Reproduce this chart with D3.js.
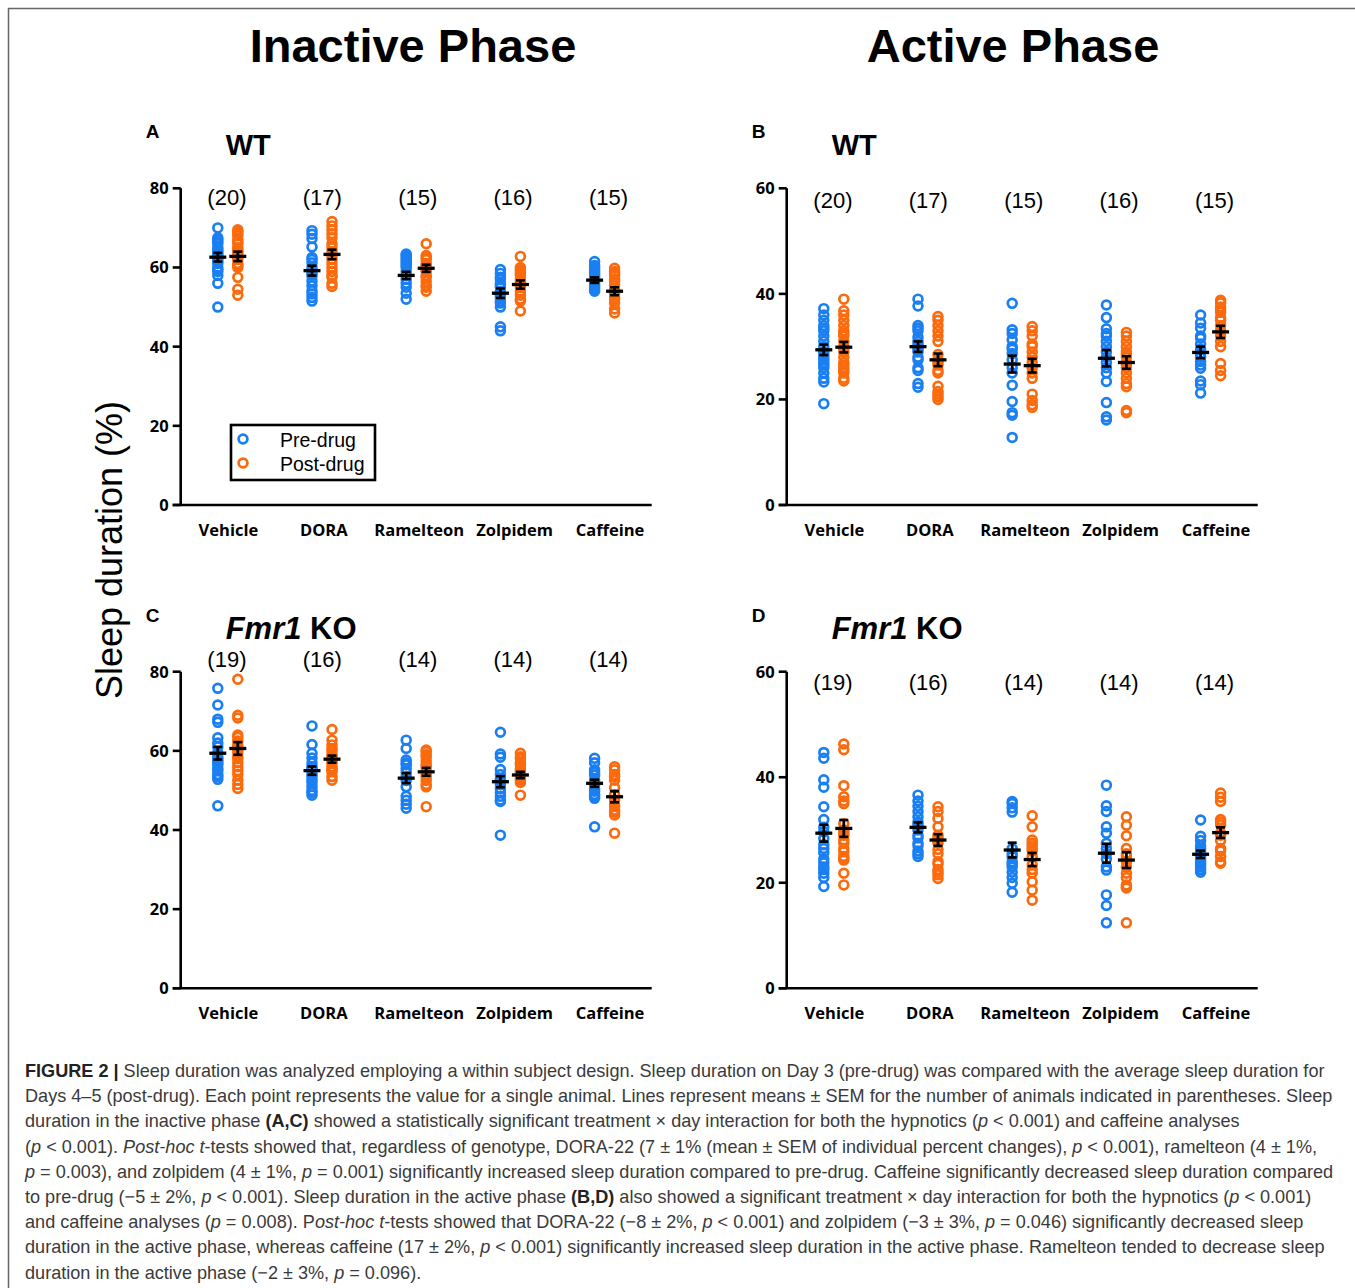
<!DOCTYPE html>
<html lang="en">
<head>
<meta charset="utf-8">
<title>Sleep duration</title>
<script src="https://d3js.org/d3.v7.min.js"></script>
<style>
  body { margin: 0; background: #fff; }
  text { font-family: "Liberation Sans", Arial, sans-serif; }
  .tick-lbl, .cat-lbl { font-family: "Open Sans", sans-serif; font-weight: bold; font-size: 16.5px; }
  .nlbl { font-size: 22px; }
</style>
</head>
<body>
<div id="chart"></div>
<script>
"use strict"

var categories = ["Vehicle", "DORA", "Ramelteon", "Zolpidem", "Caffeine"];

// A: WT, inactive phase
var aN = [20, 17, 15, 16, 15];
var aPre = [
  [70, 67.5, 67, 66.5, 66, 65, 64.5, 64, 63.5, 63, 62.5, 62, 61.5, 61, 60, 59.5, 59, 58, 56, 50],
  [69.3, 68.4, 67.3, 65.2, 62.5, 62, 61.2, 60, 59.2, 58.5, 57.9, 56.6, 55.4, 54.1, 53.3, 52.4, 51.5],
  [63.4, 63, 62.5, 62, 61.5, 61, 60.5, 60, 59, 58, 57, 56, 55, 53.5, 52],
  [59.5, 58.5, 57.5, 57, 56, 55.5, 55, 54, 53.5, 53, 52.5, 51.5, 51, 50, 45, 44],
  [61.5, 60.5, 60, 59.5, 59, 58.5, 58, 57.5, 57, 56.5, 56, 55.5, 55, 54.5, 54]
];
var aPost = [
  [69.5, 69, 68.5, 68, 67, 66.5, 66, 65, 64.5, 64, 63.5, 63, 62.5, 62, 61, 60.5, 60, 57.5, 54.5, 53],
  [71.6, 70.5, 69.5, 68.5, 67.5, 66, 65, 64, 63, 62, 61, 60, 59, 58, 57.5, 56, 55.2],
  [66, 63, 62.5, 62, 61, 60.5, 60, 59.5, 59, 58, 57.5, 56.5, 55.5, 55, 54],
  [62.8, 60, 59.5, 59, 58.5, 58, 57, 56.5, 56, 55.5, 55, 54, 53, 52, 51.5, 49],
  [59.8, 59, 58.5, 58, 57, 56.5, 55.5, 54.5, 54, 53.5, 52.5, 52, 51, 49.5, 48.5]
];
var aPreMean = [62.6, 59.2, 58.0, 53.5, 56.8], aPreSem = [1.1, 1.25, 0.9, 1.2, 0.7];
var aPostMean = [62.8, 63.3, 59.8, 55.7, 54.0], aPostSem = [1.2, 1.2, 0.9, 1.05, 1.0];

// B: WT, active phase
var bN = [20, 17, 15, 16, 15];
var bPre = [
  [37.2, 36, 35, 34, 33.5, 33, 32, 31, 30, 29, 28.5, 28, 27.5, 27, 26.5, 26, 25, 24, 23.3, 19.2],
  [39, 37.7, 34, 33.5, 33, 31.8, 31, 30.5, 30, 29.5, 29, 28, 27.5, 26, 25.5, 23, 22.3],
  [38.2, 33.2, 32.5, 31.3, 30, 29.5, 28.7, 27.5, 26, 25, 22.7, 19.6, 17.5, 17, 12.8],
  [37.9, 35.5, 33.4, 32.5, 32, 31, 30, 29, 28, 27, 26, 25, 23.4, 19.4, 16.7, 16.1],
  [36, 34.5, 33.5, 32, 31.6, 30.5, 29.5, 28.7, 28, 27.2, 26.5, 25.9, 23.5, 22.8, 21.2]
];
var bPost = [
  [39, 36.8, 36, 35, 34, 33, 32.5, 32, 31, 30, 29.5, 29, 28, 27, 26.5, 26, 25.5, 25, 24, 23.5],
  [35.7, 35, 34, 33, 32, 31, 28.5, 27.5, 27, 26.5, 25.5, 25, 22.5, 21.5, 21, 20.5, 20],
  [33.8, 33, 32, 30.5, 30, 29, 28, 27, 26, 25, 24, 21, 19.8, 19, 18.5],
  [32.7, 32, 31, 30, 29, 28.5, 28, 27, 26.5, 26, 25, 24, 23, 22.4, 17.9, 17.5],
  [38.8, 38.3, 37.5, 37, 36.5, 35.5, 35, 34, 33, 32, 31, 30, 26.8, 25.5, 24.5]
];
var bPreMean = [29.4, 30.0, 26.7, 27.8, 28.9], bPreSem = [1.0, 1.0, 1.6, 1.55, 1.1];
var bPostMean = [29.9, 27.5, 26.4, 27.0, 32.8], bPostSem = [1.0, 1.2, 1.3, 1.2, 1.15];

// C: Fmr1 KO, inactive phase
var cN = [19, 16, 14, 14, 14];
var cPre = [
  [75.8, 71.6, 68, 67.2, 63.3, 62, 61, 59.5, 58.5, 58, 57.5, 57, 56.4, 55.5, 55, 54, 53.5, 52.8, 46.1],
  [66.3, 61.6, 59.4, 58.2, 57, 56, 55.5, 55, 54, 53.5, 52.6, 52, 51, 50, 49.5, 48.8],
  [62.7, 60.6, 57.7, 57, 56.5, 55.5, 54.5, 53.5, 52.5, 50.9, 48.5, 47.5, 46.5, 45.5],
  [64.7, 59.2, 58.4, 55.3, 54, 53, 52.6, 51.5, 50.5, 49.5, 48.5, 47.6, 47.2, 38.7],
  [58.1, 57, 55.2, 54.5, 53.9, 52.6, 52, 51.3, 50.5, 49.8, 49, 48.5, 48, 40.8]
];
var cPost = [
  [78.1, 69, 68.3, 64, 63.4, 62.5, 61.5, 61, 60.2, 59.5, 58.5, 58, 57, 56, 55, 54, 52.6, 51.5, 50.5],
  [65.4, 62.7, 61.5, 60.6, 60, 59, 58.5, 58, 57.5, 57, 56, 55.5, 55, 54.7, 53.5, 52.6],
  [60.2, 59.8, 59, 58.5, 57.5, 56.5, 56, 55, 54, 53.5, 52.5, 51.5, 50.9, 45.9],
  [59.4, 58.5, 58, 57, 56.5, 55.5, 55, 54.5, 54, 53.5, 53, 52.6, 52, 48.8],
  [56, 55.2, 54, 53.5, 52.6, 50.7, 49, 47.6, 46.5, 46, 45, 44.5, 43.8, 39.2]
];
var cPreMean = [59.4, 55.0, 53.1, 52.2, 51.8], cPreSem = [1.6, 1.05, 1.25, 1.4, 0.9];
var cPostMean = [60.6, 57.9, 54.7, 53.9, 48.4], cPostSem = [1.6, 0.9, 1.0, 0.8, 1.4];

// D: Fmr1 KO, active phase
var dN = [19, 16, 14, 14, 14];
var dPre = [
  [44.7, 43.6, 39.5, 38.1, 34.4, 32, 30.5, 29.7, 28.4, 27.2, 26.5, 25.7, 24.5, 23.8, 23, 22.5, 21.8, 21, 19.3],
  [36.6, 35.5, 34.5, 33.5, 32.5, 31.5, 31, 30.5, 30, 29, 28.5, 27.5, 27, 26, 25.5, 25],
  [35.4, 35, 34.2, 33.4, 26.5, 25.5, 25, 24, 23.5, 23, 22, 21, 19.9, 18.2],
  [38.5, 34.6, 33.5, 30.6, 29.4, 27.5, 26.5, 25.5, 24.5, 23, 22.4, 17.7, 15.7, 12.4],
  [31.9, 28.8, 28, 27, 26.5, 26, 25.5, 25, 24.5, 24, 23.5, 23, 22.5, 22]
];
var dPost = [
  [46.3, 45.2, 38.4, 36.3, 35.5, 35, 31.2, 30, 29.5, 29, 28.1, 27.5, 26.5, 25.9, 25, 24.5, 24.3, 21.8, 19.6],
  [34.4, 33.5, 32.2, 30.6, 29, 28.5, 28, 27.5, 26.3, 25.5, 24, 23.5, 22.5, 22, 21.5, 20.8],
  [32.7, 30.6, 28.1, 27.5, 27, 26.5, 26, 25, 23.4, 22.5, 21.8, 20.2, 18.6, 16.7],
  [32.5, 30.9, 28.9, 26.5, 25.5, 25, 24, 23, 21.8, 21, 19.6, 19.2, 19, 12.4],
  [37, 36.2, 35.4, 32, 31.5, 31, 29.4, 29, 28, 26.5, 26, 25, 24, 23.7]
];
var dPreMean = [29.4, 30.5, 26.2, 25.6, 25.4], dPreSem = [1.6, 0.95, 1.4, 1.8, 0.7];
var dPostMean = [30.3, 28.1, 24.4, 24.3, 29.5], dPostSem = [1.6, 1.1, 1.25, 1.5, 1.0];

var inactiveTicks = [0, 20, 40, 60, 80];
var activeTicks = [0, 20, 40, 60];

var BLUE = "#1a7ff2", ORANGE = "#fb6a0c";

var svg = d3.select("#chart").append("svg")
  .attr("width", 1355).attr("height", 1288);

// moldura
svg.append("path").attr("d", "M8.5,1288 V8.5 H1355")
  .attr("fill", "none").attr("stroke", "#666").attr("stroke-width", 1.5);

svg.append("text").attr("x", 413).attr("y", 62).attr("text-anchor", "middle")
  .attr("font-weight", "bold").attr("font-size", 47).text("Inactive Phase");
svg.append("text").attr("x", 1013).attr("y", 62).attr("text-anchor", "middle")
  .attr("font-weight", "bold").attr("font-size", 47).text("Active Phase");

svg.append("text").attr("transform", "translate(122,550) rotate(-90)")
  .attr("text-anchor", "middle").attr("font-size", 36).text("Sleep duration (%)");

function painel(p) {
  var g = svg.append("g");
  var x = d3.scaleBand().domain(categories).range([p.x0, p.x1]);
  // os rotulos ficam um pouco deslocados dos pontos na figura original
  var xl = d3.scaleBand().domain(categories).range([p.x0, p.x1 + 6]);
  var y = d3.scaleLinear().domain([0, p.max]).range([p.bot, p.top]);
  var cx = function (i, side) { return x(categories[i]) + x.bandwidth() / 2 + side * 10; };

  // letra e genotipo
  g.append("text").attr("x", p.x0 - 35).attr("y", p.top - 50)
    .attr("font-weight", "bold").attr("font-size", 19).text(p.letter);
  var gt = g.append("text").attr("x", p.x0 + 45).attr("y", p.top - 33)
    .attr("font-weight", "bold");
  if (p.ko) {
    gt.attr("font-size", 31);
    gt.append("tspan").attr("font-style", "italic").text("Fmr1");
    gt.append("tspan").text(" KO");
  } else {
    gt.attr("font-size", 29).text("WT");
  }

  // eixos
  g.append("line").attr("x1", p.x0).attr("x2", p.x0).attr("y1", p.top).attr("y2", p.bot)
    .attr("stroke", "#000").attr("stroke-width", 2.6);
  g.append("line").attr("x1", p.x0 - 8).attr("x2", p.x1).attr("y1", p.bot).attr("y2", p.bot)
    .attr("stroke", "#000").attr("stroke-width", 2.6);
  p.ticks.forEach(function (t) {
    g.append("line").attr("x1", p.x0 - 8).attr("x2", p.x0).attr("y1", y(t)).attr("y2", y(t))
      .attr("stroke", "#000").attr("stroke-width", 2.6);
    g.append("text").attr("class", "tick-lbl").attr("x", p.x0 - 12).attr("y", y(t) + 6)
      .attr("text-anchor", "end").text(t);
  });
  categories.forEach(function (c) {
    g.append("text").attr("class", "cat-lbl").attr("x", xl(c) + xl.bandwidth() / 2).attr("y", p.bot + 31)
      .attr("text-anchor", "middle").text(c);
  });
  p.n.forEach(function (n, i) {
    g.append("text").attr("class", "nlbl").attr("x", xl(categories[i]) + xl.bandwidth() / 2 - 1.5)
      .attr("y", p.nY).attr("text-anchor", "middle").text("(" + n + ")");
  });

  // pontos
  [[p.pre, -1, BLUE], [p.post, 1, ORANGE]].forEach(function (s) {
    s[0].forEach(function (vals, i) {
      g.selectAll(null).data(vals).enter().append("circle")
        .attr("cx", cx(i, s[1])).attr("cy", function (d) { return y(d); })
        .attr("r", 4.4).attr("fill", "none").attr("stroke", s[2]).attr("stroke-width", 2.7);
    });
  });

  // media +- EPM
  [[p.preMean, p.preSem, -1], [p.postMean, p.postSem, 1]].forEach(function (s) {
    s[0].forEach(function (m, i) {
      var xc = cx(i, s[2]), e = s[1][i];
      g.append("line").attr("x1", xc).attr("x2", xc).attr("y1", y(m - e)).attr("y2", y(m + e))
        .attr("stroke", "#000").attr("stroke-width", 2.8);
      [m - e, m + e].forEach(function (v) {
        g.append("line").attr("x1", xc - 4.5).attr("x2", xc + 4.5).attr("y1", y(v)).attr("y2", y(v))
          .attr("stroke", "#000").attr("stroke-width", 2.6);
      });
      g.append("line").attr("x1", xc - 8.5).attr("x2", xc + 8.5).attr("y1", y(m)).attr("y2", y(m))
        .attr("stroke", "#000").attr("stroke-width", 3.3);
    });
  });
  return g;
}

painel({letter: "A", x0: 180.7, x1: 651.7, top: 188.3, bot: 505, max: 80, ticks: inactiveTicks, nY: 205,
  n: aN, pre: aPre, post: aPost, preMean: aPreMean, preSem: aPreSem, postMean: aPostMean, postSem: aPostSem});
painel({letter: "B", x0: 786.7, x1: 1257.7, top: 188.3, bot: 505, max: 60, ticks: activeTicks, nY: 208,
  n: bN, pre: bPre, post: bPost, preMean: bPreMean, preSem: bPreSem, postMean: bPostMean, postSem: bPostSem});
painel({letter: "C", x0: 180.7, x1: 651.7, top: 671.7, bot: 988.3, max: 80, ticks: inactiveTicks, nY: 667, ko: true,
  n: cN, pre: cPre, post: cPost, preMean: cPreMean, preSem: cPreSem, postMean: cPostMean, postSem: cPostSem});
painel({letter: "D", x0: 786.7, x1: 1257.7, top: 671.7, bot: 988.3, max: 60, ticks: activeTicks, nY: 690, ko: true,
  n: dN, pre: dPre, post: dPost, preMean: dPreMean, preSem: dPreSem, postMean: dPostMean, postSem: dPostSem});

// legenda
var leg = svg.append("g");
leg.append("rect").attr("x", 231).attr("y", 425).attr("width", 144).attr("height", 55)
  .attr("fill", "#fff").attr("stroke", "#000").attr("stroke-width", 2.6);
[["Pre-drug", BLUE], ["Post-drug", ORANGE]].forEach(function (d, i) {
  leg.append("circle").attr("cx", 243).attr("cy", 439 + i * 24).attr("r", 4.4)
    .attr("fill", "none").attr("stroke", d[1]).attr("stroke-width", 2.7);
  leg.append("text").attr("x", 280).attr("y", 447 + i * 24).attr("font-size", 19.5).text(d[0]);
});

// legenda da figura
var caption = [
  "**FIGURE 2 |** Sleep duration was analyzed employing a within subject design. Sleep duration on Day 3 (pre-drug) was compared with the average sleep duration for",
  "Days 4–5 (post-drug). Each point represents the value for a single animal. Lines represent means ± SEM for the number of animals indicated in parentheses. Sleep",
  "duration in the inactive phase **(A,C)** showed a statistically significant treatment × day interaction for both the hypnotics (_p_ < 0.001) and caffeine analyses",
  "(_p_ < 0.001). _Post-hoc t_-tests showed that, regardless of genotype, DORA-22 (7 ± 1% (mean ± SEM of individual percent changes), _p_ < 0.001), ramelteon (4 ± 1%,",
  "_p_ = 0.003), and zolpidem (4 ± 1%, _p_ = 0.001) significantly increased sleep duration compared to pre-drug. Caffeine significantly decreased sleep duration compared",
  "to pre-drug (−5 ± 2%, _p_ < 0.001). Sleep duration in the active phase **(B,D)** also showed a significant treatment × day interaction for both the hypnotics (_p_ < 0.001)",
  "and caffeine analyses (_p_ = 0.008). P_ost-hoc t_-tests showed that DORA-22 (−8 ± 2%, _p_ < 0.001) and zolpidem (−3 ± 3%, _p_ = 0.046) significantly decreased sleep",
  "duration in the active phase, whereas caffeine (17 ± 2%, _p_ < 0.001) significantly increased sleep duration in the active phase. Ramelteon tended to decrease sleep",
  "duration in the active phase (−2 ± 3%, _p_ = 0.096)."
];
caption.forEach(function (line, i) {
  var t = svg.append("text").attr("x", 25).attr("y", 1077 + i * 25.2)
    .attr("font-size", 18.1).attr("fill", "#3a3a3a");
  line.split(/(\*\*[^*]+\*\*|_[^_]+_)/).forEach(function (seg) {
    if (!seg) return;
    var ts = t.append("tspan");
    if (seg.startsWith("**")) ts.attr("font-weight", "bold").attr("fill", "#222").text(seg.slice(2, -2));
    else if (seg.startsWith("_")) ts.attr("font-style", "italic").text(seg.slice(1, -1));
    else ts.text(seg);
  });
});
</script>
</body>
</html>
